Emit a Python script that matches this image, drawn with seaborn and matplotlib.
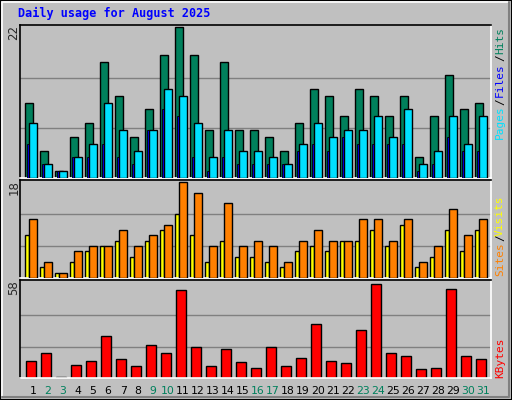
import matplotlib
matplotlib.use("Agg")
import matplotlib.pyplot as plt
import seaborn as sns
import numpy as np
from matplotlib.patches import Rectangle
from matplotlib.lines import Line2D

sns.set_style("white")

days = list(range(1, 32))
hits = [11,4,1,6,8,17,12,6,10,18,22,18,7,17,7,7,6,4,8,13,12,9,13,12,9,12,3,9,15,10,11]
pages = [8,2,1,3,5,11,7,4,7,13,12,8,3,7,4,4,3,2,5,8,6,7,7,9,6,10,2,4,9,5,9]
files = [5,2,1,3,3,5,3,2,7,10,9,3,1,3,2,2,2,2,4,5,4,6,5,5,5,5,1,2,6,4,4]
sites = [11,3,1,5,6,6,9,6,8,10,18,16,6,14,6,7,6,3,7,9,7,7,11,11,7,11,3,6,13,8,11]
visits = [8,2,1,3,5,6,7,4,7,9,12,8,3,7,4,4,3,2,5,6,5,7,7,9,6,10,2,4,9,5,9]
kbytes = [10.4,15.5,0.5,7.8,10.4,25.6,11.7,7.2,20.5,15.5,54.2,19.3,7.2,18,9.7,5.9,
          19.3,7.2,12.3,33.3,10.4,9.1,29.4,58,15.5,13.6,5.3,5.9,54.9,13.6,11.7]
weekend = [2,3,9,10,16,17,23,24,30,31]
title = "Daily usage for August 2025"

W, H = 512, 400
fig = plt.figure(figsize=(W/100, H/100), dpi=100)
fig.patch.set_facecolor("#C0C0C0")
fig.add_artist(Rectangle((0, 0), 1, 1, transform=fig.transFigure, fill=False, ec="black", lw=1.5))
fig.add_artist(Line2D([2/W, 2/W, 1-3/W], [3/H, 1-2/H, 1-2/H], transform=fig.transFigure, color="white", lw=1.2))
fig.add_artist(Line2D([2/W, 1-3/W, 1-3/W], [3/H, 3/H, 1-2/H], transform=fig.transFigure, color="#808080", lw=1.5))

fig.text(18/W, 1-13/H, title, color="#0000FF", fontsize=8.5, fontweight="bold",
         family="DejaVu Sans Mono", va="center")

def mkax(top, bottom):
    ax = fig.add_axes([20/W, 1-bottom/H, 471/W, (bottom-top)/H])
    ax.set_facecolor("#C0C0C0")
    ax.set_xlim(0.4, 0.4 + 471/15)
    for s in ["top", "left"]:
        ax.spines[s].set_color("black")
    for s in ["bottom", "right"]:
        ax.spines[s].set_color("white")
    for s in ax.spines.values():
        s.set_linewidth(1.2)
    ax.set_xticks([]); ax.set_yticks([])
    return ax

d = np.array(days, dtype=float)
ekw = dict(edgecolor="black", linewidth=1)

def grid(ax, m):
    for f in (1/3, 2/3):
        ax.axhline(m*f, color="#808080", lw=1, zorder=0)

tx = 500/W
def rlabel(y, s, c):
    fig.text(tx, 1-y/H, s, rotation=90, color=c, fontsize=8,
             family="DejaVu Sans Mono", ha="center", va="center")

ax1 = mkax(25, 178)
m1 = max(hits)
ax1.set_ylim(0, m1*1.015)
grid(ax1, m1)
ax1.bar(d, hits, width=0.47, color="#00805C", **ekw, zorder=2)
ax1.bar(d - 0.05, files, width=0.15, color="#0000FF", edgecolor="black", linewidth=0.6, zorder=3)
ax1.bar(d + 0.27, pages, width=0.49, color="#00E0FF", **ekw, zorder=4)
fig.text(14/W, 1-33/H, str(m1), rotation=90, fontsize=8.5, ha="center", va="center")
rlabel(122, "Pages", "#00E0FF")
rlabel(102, "/", "black")
rlabel(80, "Files", "#0000FF")
rlabel(58, "/", "black")
rlabel(40, "Hits", "#00805C")

ax2 = mkax(180, 278)
m2 = max(sites)
ax2.set_ylim(0, m2*1.02)
grid(ax2, m2)
ax2.bar(d - 0.11, visits, width=0.27, color="#FFFF00", **ekw, zorder=2)
ax2.bar(d + 0.27, sites, width=0.49, color="#FF8000", **ekw, zorder=3)
fig.text(14/W, 1-188/H, str(m2), rotation=90, fontsize=8.5, ha="center", va="center")
rlabel(259, "Sites", "#FF8000")
rlabel(238, "/", "black")
rlabel(216, "Visits", "#FFFF00")

ax3 = mkax(280, 378)
m3 = max(kbytes)
ax3.set_ylim(0, m3*1.04)
grid(ax3, m3)
ax3.bar(d + 0.15, kbytes, width=0.67, color="#FF0000", **ekw, zorder=2)
fig.text(14/W, 1-288/H, str(int(round(m3))), rotation=90, fontsize=8.5, ha="center", va="center")
rlabel(358, "KBytes", "#FF0000")

for dd in days:
    ax3.text(dd + 0.27, -0.13, str(dd), transform=ax3.get_xaxis_transform(),
             ha="center", va="center", fontsize=7.8,
             color="#00805C" if dd in weekend else "black")

fig.savefig("out.png", dpi=100, facecolor=fig.get_facecolor())
